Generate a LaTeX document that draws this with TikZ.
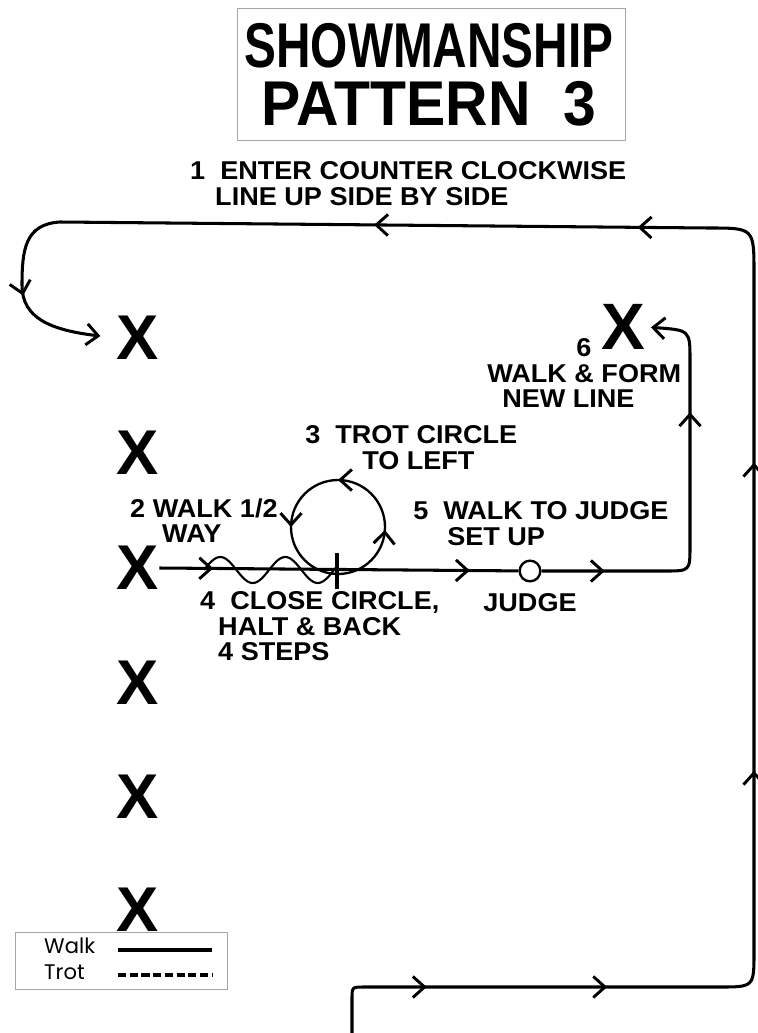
\documentclass[tikz,border=0pt]{standalone}
\usepackage{fontspec}
\setmainfont{Liberation Sans}
\newfontfamily\legendfont{Poppins}
\usetikzlibrary{arrows.meta,decorations.markings}
\tikzset{chev/.tip={Straight Barb[length=10pt,width=18pt,line width=2.5pt]}}
\begin{document}
\begin{tikzpicture}[x=0.03cm, y=-0.03cm,
  walk/.style={line width=2.6pt, line join=round},
  cross/.style={font=\fontsize{54}{54}\selectfont\bfseries, inner sep=0pt},
  lbl/.style={font=\fontsize{22}{24}\selectfont\bfseries, inner sep=0pt, anchor=west, xscale=1.05},
  heading/.style={font=\fontsize{54}{58}\selectfont\bfseries, inner sep=0pt},
  legtext/.style={font=\legendfont\fontsize{18}{20}\selectfont, inner sep=0pt, anchor=west}]
\useasboundingbox (0,0) rectangle (758,1033);

% title
\node[draw=gray!70, line width=0.8pt, minimum width=11.64cm, minimum height=3.96cm] (titlebox) at (431,74) {};
\node[heading, xscale=0.755] (title1) at (429,46) {SHOWMANSHIP};
\node[heading, xscale=0.93] (title2) at (429,104) {PATTERN\ \ 3};

% the line of horses
\foreach \i/\y in {1/338,2/453,3/568,4/683,5/797,6/910}
  \node[cross] (x\i) at (138,\y) {X};
\node[cross, font=\fontsize{56}{56}\selectfont\bfseries] (x7) at (623,327) {X};

% labels
\node[lbl] (enter) at (190,171) {1\ \ ENTER COUNTER CLOCKWISE};
\node[lbl] (lineup) at (215,197) {LINE UP SIDE BY SIDE};
\node[lbl, anchor=center] (six) at (584,348) {6};
\node[lbl] (form) at (487,374) {WALK \& FORM};
\node[lbl] (newline) at (502,399) {NEW LINE};
\node[lbl] (trot) at (305,435) {3\ \ TROT CIRCLE};
\node[lbl] (toleft) at (362,461) {TO LEFT};
\node[lbl] (half) at (130,508) {2 WALK 1/2};
\node[lbl] (way) at (162,534) {WAY};
\node[lbl] (tojudge) at (413,511) {5\ \ WALK TO JUDGE};
\node[lbl] (setup) at (447,537) {SET UP};
\node[lbl] (close) at (200,602) {4\ \ CLOSE CIRCLE,};
\node[lbl] (halt) at (218,627) {HALT \& BACK};
\node[lbl] (steps) at (218,652) {4 STEPS};
\node[lbl, anchor=center] (judgelbl) at (530,603) {JUDGE};

% judge
\node[circle, draw, fill=white, line width=2pt, inner sep=0pt, minimum size=0.62cm] (judge) at (530,571) {};

% enter and line up
\coordinate (gate) at (352,1033);
\draw[walk, -{chev}, shorten >=14pt, postaction={decorate},
  decoration={markings,
    mark=at position 101pt with {\arrow{chev}},
    mark=at position 255pt with {\arrow{chev}},
    mark=at position 559pt with {\arrow{chev}},
    mark=at position 822pt with {\arrow{chev}},
    mark=at position 1114pt with {\arrow{chev}},
    mark=at position 1339pt with {\arrow{chev}},
    mark=at position 1688pt with {\arrow{chev}}}]
  (gate) -- (352,999) .. controls (352,987) .. (364,987) -- (719,987)
  .. controls (754,987) .. (754,952) -- (754,273) .. controls (754,228) .. (709,228)
  -- (60,222) .. controls (25,224) and (22,250) .. (22,285)
  .. controls (22,318) and (50,330) .. (x1.west);

% walk to judge
\draw[walk, postaction={decorate},
  decoration={markings,
    mark=at position 46pt with {\arrow{chev}},
    mark=at position 265pt with {\arrow{chev}}}]
  (x3.east) -- (judge);
\draw[walk, -{chev}, shorten >=5pt, postaction={decorate},
  decoration={markings,
    mark=at position 54pt with {\arrow{chev}},
    mark=at position 258pt with {\arrow{chev}}}]
  (judge) -- (665,571) .. controls (690,571) .. (690,546) -- (690,360)
  .. controls (690,330) .. (x7.east);

% trot circle
\draw[line width=2pt, postaction={decorate},
  decoration={markings,
    mark=at position 0.24 with {\arrow{chev}},
    mark=at position 0.5 with {\arrow{chev}},
    mark=at position 0.75 with {\arrow{chev}}}]
  (338,574) arc[start angle=90, end angle=-270, radius=47];
\draw[line width=1.8pt] plot[domain=204:336, samples=80, smooth] (\x, {570 - 13*sin((\x-204)*5.538)});
\draw[walk] (337,553) -- (337,589);

% legend
\node[draw=gray!70, line width=0.6pt, minimum width=6.36cm, minimum height=1.71cm] (legend) at (121,961) {};
\node[legtext] (walktxt) at (44,946) {Walk};
\node[legtext] (trottxt) at (44,972) {Trot};
\draw[line width=2.6pt] (118,950) -- (212,950);
\draw[line width=2.6pt, dash pattern=on 7pt off 3pt] (118,975) -- (212,975);
\end{tikzpicture}
\end{document}
